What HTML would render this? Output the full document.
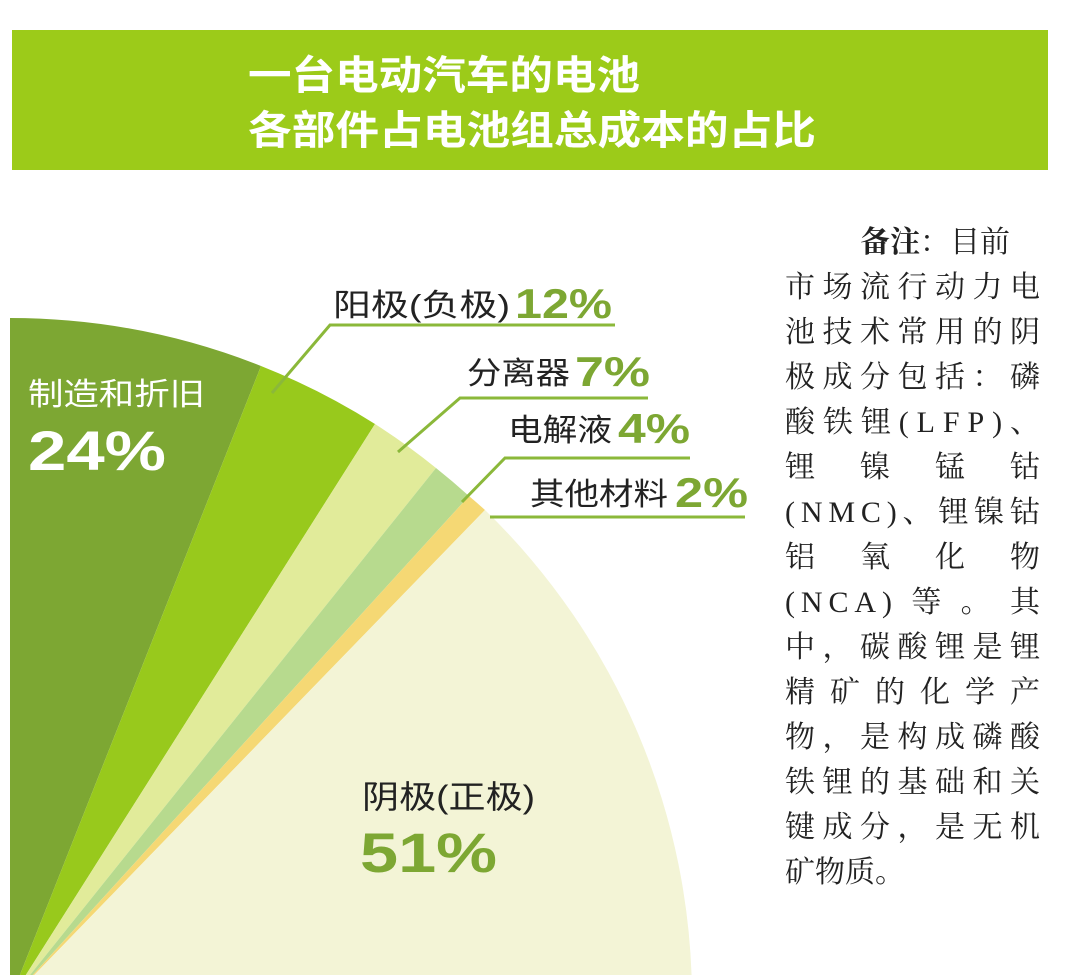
<!DOCTYPE html>
<html><head><meta charset="utf-8"><style>
html,body{margin:0;padding:0;background:#fff;}
svg{display:block}
.t{font-family:"Liberation Sans","Noto Sans CJK SC",sans-serif;}
.n{font-family:"Liberation Serif","Noto Serif CJK SC",serif;font-size:30px;fill:#222;}
</style></head><body>
<svg width="1080" height="975" viewBox="0 0 1080 975">
<rect x="12" y="30" width="1036" height="140" fill="#9ccb19"/>
<text class="t" x="248" y="89" font-size="40" font-weight="bold" fill="#fff" textLength="392" lengthAdjust="spacingAndGlyphs">一台电动汽车的电池</text>
<text class="t" x="248" y="144" font-size="40" font-weight="bold" fill="#fff" textLength="568" lengthAdjust="spacingAndGlyphs">各部件占电池组总成本的占比</text>
<path d="M10,1000 L10,318 A682,682 0 0 1 261,366 Z" fill="#7da733"/>
<path d="M10,1000 L261,366 A682,682 0 0 1 375,424 Z" fill="#98c91c"/>
<path d="M10,1000 L375,424 A682,682 0 0 1 436,468 Z" fill="#e1eb9a"/>
<path d="M10,1000 L436,468 A682,682 0 0 1 469,496 Z" fill="#b7da8e"/>
<path d="M10,1000 L469,496 A682,682 0 0 1 485,510 Z" fill="#f5d874"/>
<path d="M10,1000 L485,510 A682,682 0 0 1 692,1000 Z" fill="#f3f4d6"/>
<g stroke="#8bb83a" stroke-width="3" fill="none">
<polyline points="272,393 330,325 615,325"/>
<polyline points="398,452 460,398 648,398"/>
<polyline points="462,502 505,458 690,458"/>
<polyline points="490,517 745,517"/>
</g>
<text class="t" x="28" y="405" font-size="31" fill="#fff" textLength="177" lengthAdjust="spacingAndGlyphs">制造和折旧</text>
<text class="t" x="28" y="470" font-size="56" font-weight="bold" fill="#fff" textLength="138" lengthAdjust="spacingAndGlyphs">24%</text>
<g class="t" fill="#222" font-size="31">
<text x="333" y="316" textLength="177" lengthAdjust="spacingAndGlyphs">阳极(负极)</text>
<text x="467" y="384" textLength="103" lengthAdjust="spacingAndGlyphs">分离器</text>
<text x="508" y="441" textLength="104" lengthAdjust="spacingAndGlyphs">电解液</text>
<text x="530" y="505" textLength="138" lengthAdjust="spacingAndGlyphs">其他材料</text>
</g>
<g class="t" fill="#7da733" font-size="42" font-weight="bold">
<text x="515" y="318" textLength="97" lengthAdjust="spacingAndGlyphs">12%</text>
<text x="575" y="386" textLength="75" lengthAdjust="spacingAndGlyphs">7%</text>
<text x="618" y="443" textLength="72" lengthAdjust="spacingAndGlyphs">4%</text>
<text x="675" y="507" textLength="73" lengthAdjust="spacingAndGlyphs">2%</text>
</g>
<text class="t" x="362" y="808" font-size="32" fill="#222" textLength="173" lengthAdjust="spacingAndGlyphs">阴极(正极)</text>
<text class="t" x="360" y="872" font-size="56" font-weight="bold" fill="#7da733" textLength="137" lengthAdjust="spacingAndGlyphs">51%</text>
<g class="n">
<text x="860" y="252"><tspan font-weight="bold">备注</tspan>：目前</text>
<text x="785" y="297" textLength="255">市场流行动力电</text>
<text x="785" y="342" textLength="255">池技术常用的阴</text>
<text x="785" y="387" textLength="255">极成分包括：磷</text>
<text x="785" y="432" textLength="255">酸铁锂(LFP)、</text>
<text x="785" y="477" textLength="255">锂 镍 锰 钴</text>
<text x="785" y="522" textLength="255">(NMC)、锂镍钴</text>
<text x="785" y="567" textLength="255">铝 氧 化 物</text>
<text x="785" y="612" textLength="255">(NCA) 等 。 其</text>
<text x="785" y="657" textLength="255">中，碳酸锂是锂</text>
<text x="785" y="702" textLength="255">精矿的化学产</text>
<text x="785" y="747" textLength="255">物，是构成磷酸</text>
<text x="785" y="792" textLength="255">铁锂的基础和关</text>
<text x="785" y="837" textLength="255">键成分，是无机</text>
<text x="785" y="882">矿物质。</text>
</g>
</svg>
</body></html>
